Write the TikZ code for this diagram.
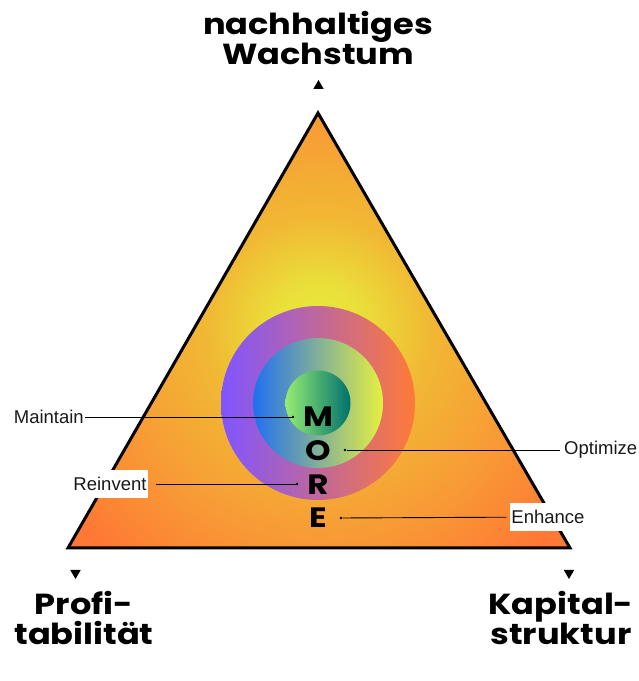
\documentclass[tikz,border=0pt]{standalone}
\usepackage{fontspec}
\setmainfont{Liberation Sans}
\newfontfamily\headfont{Poppins}[FakeStretch=1.16]
\usepackage{xcolor}
\definecolor{GlowYellow}{RGB}{232,234,58}
\definecolor{GlowLemon}{RGB}{234,224,58}
\definecolor{GlowAmber}{RGB}{241,184,52}
\definecolor{GlowOrange}{RGB}{248,154,53}
\definecolor{EdgeOrange}{RGB}{255,120,53}
\definecolor{RingPurple}{RGB}{128,85,255}
\definecolor{RingOrange}{RGB}{255,122,56}
\definecolor{MidBlue}{RGB}{32,112,240}
\definecolor{MidLime}{RGB}{229,240,64}
\definecolor{CoreGreen}{RGB}{149,236,114}
\definecolor{CoreTeal}{RGB}{0,112,110}
\definecolor{LabelInk}{RGB}{25,25,25}
\usepackage{tikz}
\usetikzlibrary{shapes.geometric,positioning}
\pgfdeclareradialshading{triglow}{\pgfpoint{0bp}{0bp}}{%
  color(0bp)=(GlowYellow); color(3.2bp)=(GlowLemon); color(8.2bp)=(GlowAmber);
  color(15.5bp)=(GlowOrange); color(22.5bp)=(EdgeOrange); color(50bp)=(EdgeOrange)}

\begin{document}
\begin{tikzpicture}[x=1pt,y=1pt,
  heading/.style={font=\headfont\bfseries\fontsize{29}{30}\selectfont,align=center,inner sep=0pt},
  bigletter/.style={font=\headfont\bfseries\fontsize{28}{28}\selectfont,inner sep=0pt},
  lbl/.style={font=\fontsize{18.5}{20}\selectfont,text=LabelInk,inner sep=1pt},
  tagbox/.style={lbl,fill=white,minimum height=28pt},
  leader/.style={line width=0.9pt,black},
  dotend/.style={circle,fill=black,inner sep=0pt,minimum size=2.6pt},
  pointer/.style={regular polygon,regular polygon sides=3,fill=black,inner sep=0pt,minimum size=12pt}
]
  \useasboundingbox (0,0) rectangle (639,681);
  \coordinate (apex) at (318,568);
  \coordinate (lft)  at (68,133);
  \coordinate (rgt)  at (570,133);

  % triangle glow
  \begin{scope}
    \clip (apex) -- (lft) -- (rgt) -- cycle;
    \shade[shading=triglow] (318,352) circle (340);
  \end{scope}

  % rings
  \shade[left color=RingPurple,right color=RingOrange] (318,278) circle (97);
  \shade[left color=MidBlue,right color=MidLime]       (318,278) circle (65);
  \shade[left color=CoreGreen,right color=CoreTeal]    (318,278) circle (32.5);

  \draw[line width=3pt,line join=miter] (apex) -- (lft) -- (rgt) -- cycle;

  % MORE
  \node[bigletter] (m) at (318,264) {M};
  \node[bigletter] (o) at (318,230) {O};
  \node[bigletter] (r) at (318,196) {R};
  \node[bigletter] (e) at (318,163) {E};

  % corner titles
  \node[pointer] (uppt) at (318.5,595) {};
  \node[pointer,shape border rotate=180] (lftpt) at (75.5,108) {};
  \node[pointer,shape border rotate=180] (rgtpt) at (569,108) {};
  \node[heading] (growth) at (318,643) {nachhaltiges\\Wachstum};
  \node[heading] (profit) at (84,63)   {Profi-\\tabilität};
  \node[heading] (capital) at (561,63) {Kapital-\\struktur};

  % labels
  \node[lbl,anchor=east] (maintain) at (85,264) {Maintain};
  \node[dotend] (dmain) at (293,264) {};
  \draw[leader] (maintain) -- (dmain);

  \node[lbl,anchor=west] (optimize) at (563,231) {Optimize};
  \node[dotend] (dopt) at (345,231) {};
  \draw[leader,shorten >=3pt] (dopt) -- (optimize);

  \node[tagbox] (reinvent) at (110,197) {Reinvent};
  \node[dotend] (drein) at (297,197) {};
  \draw[leader,shorten <=8pt] (reinvent) -- (drein);

  \node[tagbox] (enhance) at (548,164) {Enhance};
  \node[dotend] (denh) at (341,163) {};
  \draw[leader,shorten >=4pt] (denh) -- (enhance);
\end{tikzpicture}
\end{document}
